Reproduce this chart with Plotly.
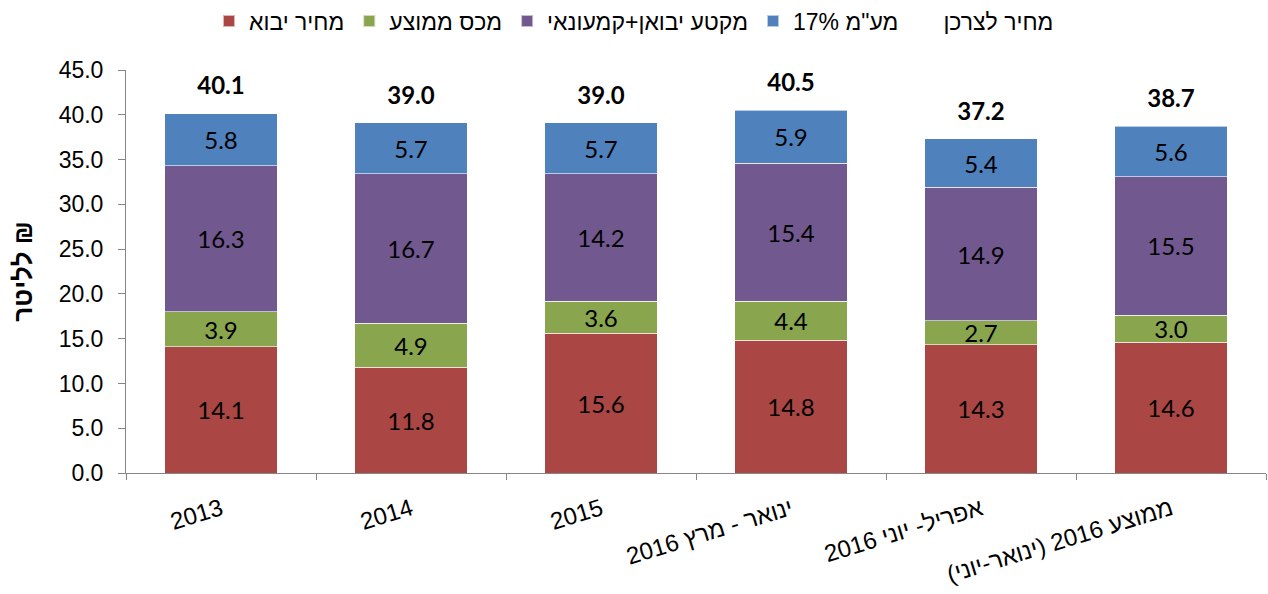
import plotly.graph_objects as go

categories = ["2013", "2014", "2015", "ינואר - מרץ 2016", "אפריל- יוני 2016", "ממוצע 2016 (ינואר-יוני)\u200f"]
import_price = [14.1, 11.8, 15.6, 14.8, 14.3, 14.6]
avg_duty = [3.9, 4.9, 3.6, 4.4, 2.7, 3.0]
margin_seg = [16.3, 16.7, 14.2, 15.4, 14.9, 15.5]
vat = [5.8, 5.7, 5.7, 5.9, 5.4, 5.6]
consumer_price = [40.1, 39.0, 39.0, 40.5, 37.2, 38.7]

names = ["מחיר יבוא", "מכס ממוצע", "מקטע יבואן+קמעונאי", "מע\"מ 17%", "מחיר לצרכן"]
colors = ["#AA4643", "#89A54E", "#71588F", "#4F81BD"]

LAB = "Lato"
AX = "Arial, Liberation Sans, sans-serif"

fig = go.Figure()
for vals, nm, col in zip([import_price, avg_duty, margin_seg, vat], names[:4], colors):
    fig.add_trace(go.Bar(
        x=categories, y=vals, name=nm,
        marker=dict(color=col, line=dict(color="rgba(255,255,255,0.6)", width=1)),
        width=0.59,
        text=[f"{v:.1f}" for v in vals], textposition="inside",
        insidetextanchor="middle", textangle=0, constraintext="none",
        textfont=dict(family=LAB, size=24, color="black"),
        hoverinfo="skip",
    ))

fig.add_trace(go.Scatter(
    x=categories, y=consumer_price, mode="markers+text",
    marker=dict(size=20, color="rgba(0,0,0,0)"),
    text=[f"<b>{v:.1f}</b>" for v in consumer_price], textposition="top center",
    textfont=dict(family=LAB, size=24, color="black"),
    showlegend=False, cliponaxis=False, hoverinfo="skip",
))
fig.add_trace(go.Scatter(
    x=categories, y=consumer_price, mode="lines", name=names[4],
    line=dict(color="rgba(0,0,0,0)", width=0), hoverinfo="skip",
))

fig.update_layout(
    barmode="stack",
    width=1268, height=594,
    margin=dict(l=126, r=2, t=70, b=121, autoexpand=False),
    paper_bgcolor="white", plot_bgcolor="white",
    showlegend=True,
    legend=dict(orientation="h", x=0.4456, xanchor="center", y=1.175, yanchor="top",
                font=dict(family=AX, size=23, color="black"), traceorder="normal",
                itemsizing="constant"),
    font=dict(family=AX, color="black"),
)
fig.update_xaxes(
    showline=True, linecolor="#868686", linewidth=1,
    ticks="outside", tickson="boundaries", ticklen=6, tickcolor="#868686",
    tickangle=-17, tickfont=dict(family=AX, size=24, color="black"),
    ticklabelstandoff=12,
    showgrid=False,
)
fig.update_yaxes(
    range=[0, 45], dtick=5, tickformat=".1f",
    showline=True, linecolor="#868686", linewidth=1,
    ticks="outside", ticklen=7, tickcolor="#868686",
    tickfont=dict(family=AX, size=23, color="black"),
    ticklabelstandoff=10,
    showgrid=False, zeroline=False,
    title=dict(text="<b>לליטר ₪</b>", font=dict(family=AX, size=26, color="black"), standoff=18),
)

fig.write_html("out.html", post_script="document.body.style.margin='0';",
               config={"displayModeBar": False})
